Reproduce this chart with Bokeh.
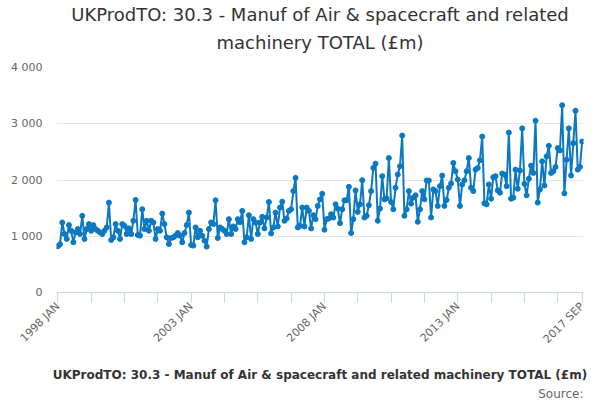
import math
from bokeh.plotting import figure
from bokeh.models import Range1d, FixedTicker, Title
from bokeh.embed import file_html
from bokeh.resources import INLINE

# Monthly values (£m), 1998 JAN .. 2017 SEP
v1998 = [822, 858, 1245, 1040, 952, 1198, 1098, 893, 1069, 1128, 1040, 1363]
v1999 = [952, 1128, 1216, 1098, 1198, 1128, 1098, 1069, 1040, 1098, 1157, 1598]
v2000 = [934, 981, 1216, 1098, 952, 1216, 1186, 1040, 1140, 1040, 1275, 1645]
v2001 = [1022, 1010, 1480, 1128, 1275, 1098, 1275, 1245, 952, 1128, 1098, 1404]
v2002 = [1216, 981, 863, 969, 981, 1010, 1057, 1010, 893, 1057, 1198, 1421]
v2003 = [846, 834, 1157, 981, 1098, 1010, 922, 816, 1128, 1245, 1216, 1639]
v2004 = [969, 1157, 1128, 1098, 1040, 1304, 1040, 1175, 1128, 1304, 1250, 1451]
v2005 = [893, 981, 1374, 951, 1304, 1245, 1040, 1245, 1345, 1140, 1333, 1609]
v2006 = [1051, 1157, 1421, 1175, 1510, 1615, 1275, 1316, 1451, 1480, 1803, 2038]
v2007 = [1157, 1186, 1510, 1175, 1510, 1451, 1140, 1374, 1304, 1539, 1656, 1756]
v2008 = [1116, 1304, 1316, 1392, 1333, 1568, 1492, 1233, 1480, 1639, 1639, 1880]
v2009 = [1057, 1304, 1815, 1433, 1568, 1997, 1333, 1363, 1551, 1803, 2214, 2291]
v2010 = [1275, 1492, 2068, 1656, 1674, 2391, 1609, 1480, 1862, 2097, 2244, 2790]
v2011 = [1363, 1480, 1803, 1580, 1686, 1727, 1257, 1480, 1803, 1656, 1991, 1991]
v2012 = [1333, 1833, 1803, 1539, 1891, 2079, 1539, 1645, 1862, 1938, 2303, 2156]
v2013 = [2009, 1539, 1921, 1997, 2156, 2391, 1862, 1803, 2185, 2214, 2350, 2772]
v2014 = [1586, 1568, 1921, 1668, 2050, 2068, 1815, 1774, 2115, 2097, 1891, 2843]
v2015 = [1668, 1686, 2185, 1844, 2167, 2919, 1932, 1727, 2021, 2256, 2126, 3054]
v2016 = [1598, 1833, 2332, 1903, 2420, 2608, 2126, 2156, 2232, 2567, 2526, 3330]
v2017 = [1762, 2361, 2919, 2079, 2655, 3231, 2185, 2232, 2684]

x_tick_labels = {0: "1998 JAN", 60: "2003 JAN", 120: "2008 JAN", 180: "2013 JAN", 236: "2017 SEP"}
y_ticks = [0, 1000, 2000, 3000, 4000]
y_tick_labels = ["0", "1 000", "2 000", "3 000", "4 000"]

title_lines = ["UKProdTO: 30.3 - Manuf of Air & spacecraft and related", "machinery TOTAL (£m)"]
series_name = "UKProdTO: 30.3 - Manuf of Air & spacecraft and related machinery TOTAL (£m)"
source_text = "Source:"

values = (v1998 + v1999 + v2000 + v2001 + v2002 + v2003 + v2004 + v2005 + v2006 + v2007
          + v2008 + v2009 + v2010 + v2011 + v2012 + v2013 + v2014 + v2015 + v2016 + v2017)
xs = list(range(len(values)))
n_last = len(values) - 1

FONT = "DejaVu Sans"
BLUE = "#0b78c2"

p = figure(width=600, height=400, output_backend="svg", toolbar_location=None,
           x_range=Range1d(-0.6, n_last + 0.6), y_range=Range1d(0, 4000),
           min_border_left=56, min_border_right=17, min_border_top=67, min_border_bottom=106)
p.outline_line_color = None

ln = p.line(xs, values, line_color=BLUE, line_width=2)
sc = p.scatter(xs, values, size=5, color=BLUE)

# x axis (its label carries the series name, like the legend below the chart)
xt = list(range(0, n_last, 15)) + [n_last]
p.xaxis.ticker = FixedTicker(ticks=xt)
p.xaxis.major_label_overrides = {t: x_tick_labels.get(t, "") for t in xt}
p.xaxis.major_label_orientation = math.pi / 4
p.xaxis.axis_line_color = "#ccd6eb"
p.xaxis.major_tick_line_color = "#ccd6eb"
p.xaxis.major_tick_out = 10
p.xaxis.major_tick_in = 0
p.xaxis.minor_tick_line_color = None
p.xaxis.major_label_text_font = FONT
p.xaxis.major_label_text_font_size = "11px"
p.xaxis.major_label_text_color = "#666666"
p.xaxis.major_label_standoff = 2
p.xaxis.axis_label = series_name
p.xaxis.axis_label_text_font = FONT
p.xaxis.axis_label_text_font_size = "12px"
p.xaxis.axis_label_text_font_style = "bold"
p.xaxis.axis_label_text_color = "#333333"
p.xaxis.axis_label_standoff = 14
p.xgrid.visible = False

# y axis
p.yaxis.ticker = FixedTicker(ticks=y_ticks)
p.yaxis.major_label_overrides = {t: l for t, l in zip(y_ticks, y_tick_labels)}
p.yaxis.axis_line_color = None
p.yaxis.major_tick_line_color = None
p.yaxis.major_tick_out = 0
p.yaxis.major_tick_in = 0
p.yaxis.minor_tick_line_color = None
p.yaxis.major_label_text_font = FONT
p.yaxis.major_label_text_font_size = "11px"
p.yaxis.major_label_text_color = "#666666"
p.yaxis.major_label_standoff = 14
p.ygrid.ticker = FixedTicker(ticks=y_ticks)
p.ygrid.grid_line_color = "#e6e6e6"

# two-line title: the line added later sits farther from the frame
p.add_layout(Title(text=title_lines[1], align="center", text_font=FONT, text_font_size="18px",
                   text_font_style="normal", text_color="#333333", standoff=30), "above")
p.add_layout(Title(text=title_lines[0], align="center", text_font=FONT, text_font_size="18px",
                   text_font_style="normal", text_color="#333333", standoff=-20), "above")

p.add_layout(Title(text=source_text, align="right", text_font=FONT, text_font_size="12px",
                   text_font_style="normal", text_color="#666666", standoff=0), "below")

open("out.html", "w").write(file_html(p, INLINE))
